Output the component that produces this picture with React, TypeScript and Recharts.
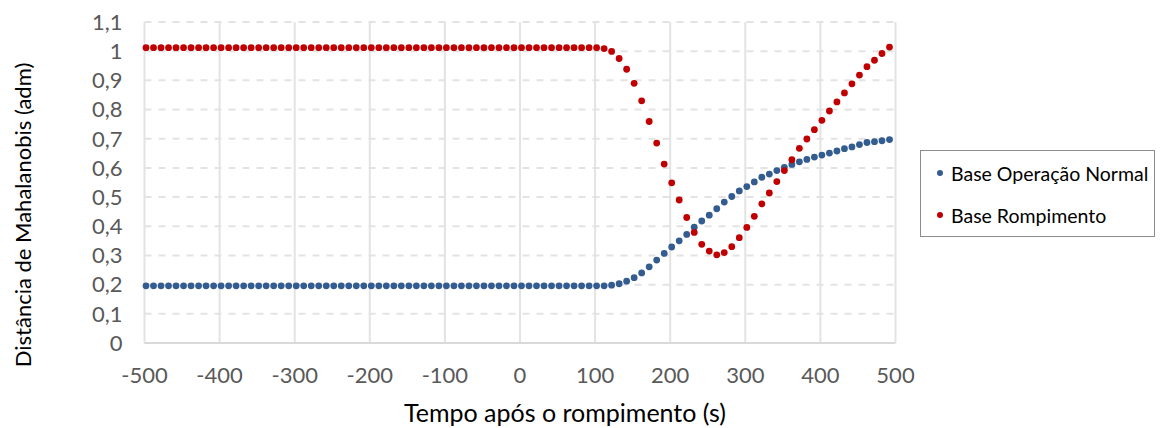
import { ScatterChart, Scatter, XAxis, YAxis, CartesianGrid, Label } from 'recharts';

// Tempo após o rompimento (s)
const tempo = [
  -498, -488, -478, -468, -458, -448, -438, -428, -418, -408,
  -398, -388, -378, -368, -358, -348, -338, -328, -318, -308,
  -298, -288, -278, -268, -258, -248, -238, -228, -218, -208,
  -198, -188, -178, -168, -158, -148, -138, -128, -118, -108,
  -98, -88, -78, -68, -58, -48, -38, -28, -18, -8,
  2, 12, 22, 32, 42, 52, 62, 72, 82, 92,
  102, 112, 122, 132, 142, 152, 162, 172, 182, 192,
  202, 212, 222, 232, 242, 252, 262, 272, 282, 292,
  302, 312, 322, 332, 342, 352, 362, 372, 382, 392,
  402, 412, 422, 432, 442, 452, 462, 472, 482, 492,
];

const baseOperacaoNormal = [
  0.196, 0.196, 0.196, 0.196, 0.196, 0.196, 0.196, 0.196, 0.196, 0.196,
  0.196, 0.196, 0.196, 0.196, 0.196, 0.196, 0.196, 0.196, 0.196, 0.196,
  0.196, 0.196, 0.196, 0.196, 0.196, 0.196, 0.196, 0.196, 0.196, 0.196,
  0.196, 0.196, 0.196, 0.196, 0.196, 0.196, 0.196, 0.196, 0.196, 0.196,
  0.196, 0.196, 0.196, 0.196, 0.196, 0.196, 0.196, 0.196, 0.196, 0.196,
  0.196, 0.196, 0.196, 0.196, 0.196, 0.196, 0.196, 0.196, 0.196, 0.196,
  0.196, 0.196, 0.198, 0.203, 0.212, 0.224, 0.240, 0.261, 0.284, 0.307,
  0.329, 0.350, 0.372, 0.397, 0.418, 0.438, 0.460, 0.483, 0.502, 0.521,
  0.536, 0.552, 0.568, 0.579, 0.591, 0.602, 0.612, 0.621, 0.629, 0.637,
  0.644, 0.651, 0.658, 0.666, 0.672, 0.680, 0.687, 0.690, 0.693, 0.697,
];

const baseRompimento = [
  1.012, 1.012, 1.012, 1.012, 1.012, 1.012, 1.012, 1.012, 1.012, 1.012,
  1.012, 1.012, 1.012, 1.012, 1.012, 1.012, 1.012, 1.012, 1.012, 1.012,
  1.012, 1.012, 1.012, 1.012, 1.012, 1.012, 1.012, 1.012, 1.012, 1.012,
  1.012, 1.012, 1.012, 1.012, 1.012, 1.012, 1.012, 1.012, 1.012, 1.012,
  1.012, 1.012, 1.012, 1.012, 1.012, 1.012, 1.012, 1.012, 1.012, 1.012,
  1.012, 1.012, 1.012, 1.012, 1.012, 1.012, 1.012, 1.012, 1.012, 1.012,
  1.012, 1.009, 0.999, 0.975, 0.938, 0.890, 0.830, 0.759, 0.685, 0.613,
  0.549, 0.490, 0.430, 0.379, 0.338, 0.315, 0.302, 0.310, 0.330, 0.361,
  0.396, 0.434, 0.477, 0.514, 0.553, 0.591, 0.628, 0.667, 0.699, 0.731,
  0.763, 0.795, 0.826, 0.857, 0.888, 0.918, 0.947, 0.969, 0.992, 1.014,
];

const xTicks = [-500, -400, -300, -200, -100, 0, 100, 200, 300, 400, 500];
const yTicks = [0, 0.1, 0.2, 0.3, 0.4, 0.5, 0.6, 0.7, 0.8, 0.9, 1, 1.1];

const BLUE = '#335c90';
const RED = '#c00000';
const FONT = 'Lato, sans-serif';

const series = [
  { name: 'Base Operação Normal', color: BLUE, values: baseOperacaoNormal },
  { name: 'Base Rompimento', color: RED, values: baseRompimento },
];

const formatY = (v: number) => {
  const r = Math.round(v * 10) / 10;
  return Number.isInteger(r) ? String(r) : r.toFixed(1).replace('.', ',');
};

const dot = (color: string) => (props: any) => (
  <circle cx={props.cx} cy={props.cy} r={3.4} fill={color} />
);

function LegendBox() {
  return (
    <div
      style={{
        position: 'absolute',
        left: 920,
        top: 150,
        width: 235,
        height: 87,
        border: '1px solid #8c8c8c',
        background: '#fff',
        boxSizing: 'border-box',
        fontFamily: FONT,
        fontSize: 19.5,
        color: '#000',
        paddingTop: 1,
      }}
    >
      {series.map((s) => (
        <div key={s.name} style={{ display: 'flex', alignItems: 'center', height: 42 }}>
          <span
            style={{
              display: 'inline-block',
              width: 6,
              height: 6,
              borderRadius: 3,
              background: s.color,
              marginLeft: 16,
              marginRight: 8,
            }}
          />
          {s.name}
        </div>
      ))}
    </div>
  );
}

export default function App() {
  return (
    <div style={{ width: 1161, height: 428, position: 'relative', background: '#fff' }}>
      <style>{'body{margin:0}'}</style>
      <ScatterChart width={1161} height={428} margin={{ top: 22, right: 265.5, bottom: 0, left: 0 }}>
        <CartesianGrid horizontal={false} stroke="#e3e3e3" strokeWidth={2} />
        <CartesianGrid vertical={false} stroke="#e3e3e3" strokeWidth={2} strokeDasharray="7 7" />
        <XAxis
          type="number"
          dataKey="x"
          domain={[-500, 500]}
          ticks={xTicks}
          interval={0}
          height={85}
          axisLine={{ stroke: '#d9d9d9', strokeWidth: 2 }}
          tickLine={false}
          tickSize={0}
          tickMargin={24}
          tick={{ fill: '#595959', fontSize: 22, fontFamily: FONT }}
        >
          <Label
            content={() => (
              <text x={565} y={422} textAnchor="middle" fill="#000" fontSize={25} fontFamily={FONT}>
                Tempo após o rompimento (s)
              </text>
            )}
          />
        </XAxis>
        <YAxis
          type="number"
          dataKey="y"
          domain={[0, 1.1]}
          ticks={yTicks}
          interval={0}
          width={144.5}
          axisLine={false}
          tickLine={false}
          tickSize={0}
          tickMargin={22}
          tickFormatter={formatY}
          tick={{ fill: '#595959', fontSize: 22, fontFamily: FONT }}
        >
          <Label
            content={() => (
              <text
                x={22}
                y={215}
                transform="rotate(-90 22 215)"
                textAnchor="middle"
                dominantBaseline="central"
                fill="#000"
                fontSize={22}
                fontFamily={FONT}
              >
                Distância de Mahalanobis (adm)
              </text>
            )}
          />
        </YAxis>
        {series.map((s) => (
          <Scatter
            key={s.name}
            name={s.name}
            data={tempo.map((t, i) => ({ x: t, y: s.values[i] }))}
            fill={s.color}
            shape={dot(s.color)}
            isAnimationActive={false}
          />
        ))}
      </ScatterChart>
      <LegendBox />
    </div>
  );
}
